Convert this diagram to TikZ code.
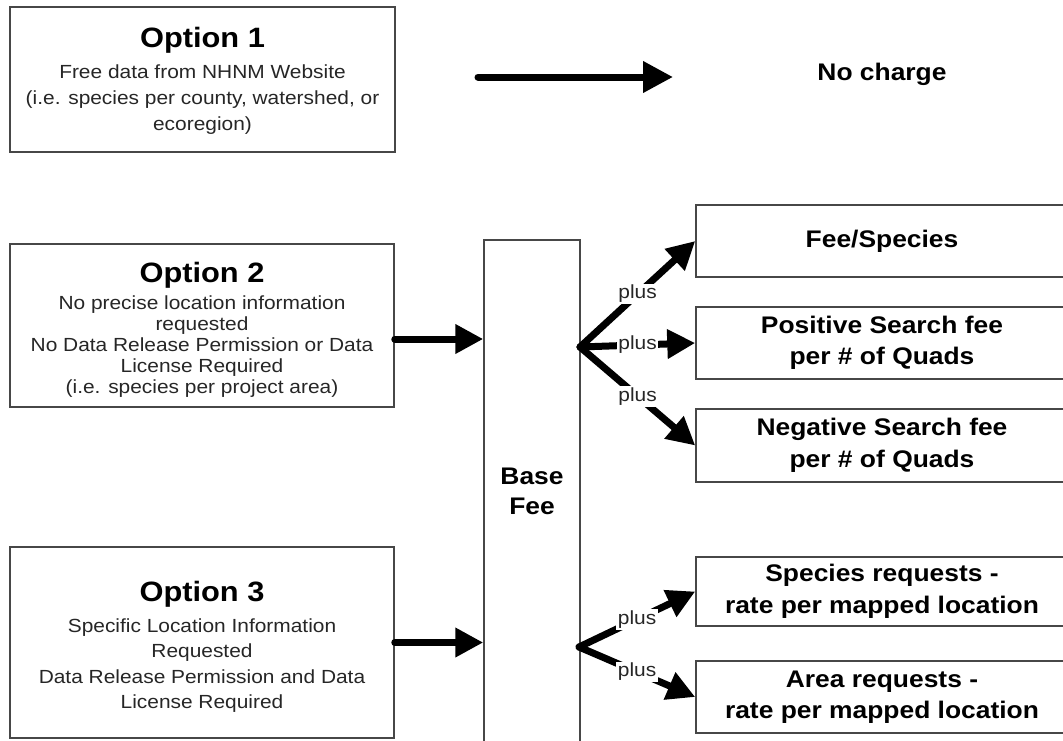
\documentclass[tikz,border=0pt]{standalone}
\usepackage{fontspec}
\setmainfont{Liberation Sans}[FakeStretch=1.1]
\usetikzlibrary{arrows.meta}
\newcommand\ttl[2]{{\fontsize{28}{34}\selectfont\bfseries\color{black}#1}\\[#2]}
\begin{document}
\begin{tikzpicture}[x=1pt,y=-1pt,
  box/.style={draw=black!72, line width=1.5pt, align=center, inner sep=0pt},
  optext/.style={align=center, inner sep=0pt, anchor=north, text=black!85},
  rbox/.style={box, text=black, minimum width=372pt, font=\bfseries\fontsize{24}{31.5}\selectfont},
  bigarrow/.style={line width=7pt, line cap=round, -{Triangle[length=30pt,width=30pt]}},
  brarrow/.style={line width=7pt, line cap=round, -{Triangle[length=28pt,width=28pt]}},
  plusl/.style={font=\fontsize{19}{22}\selectfont, fill=white, inner sep=1.5pt, text=black!85}]
\useasboundingbox (0,0) rectangle (1063,740);
% left boxes
\node[box, minimum width=385pt, minimum height=145pt] (o1) at (202.5,79.5) {};
\node[optext, font=\fontsize{19}{25.8}\selectfont] (o1t) at (202.5,27)
  {\ttl{Option 1}{5.2pt}Free data from NHNM Website\\(i.e. species per county, watershed, or\\ecoregion)};
\node[box, minimum width=384pt, minimum height=163pt] (o2) at (202,325.5) {};
\node[optext, font=\fontsize{19}{21}\selectfont] (o2t) at (202,262)
  {\ttl{Option 2}{6pt}No precise location information\\requested\\No Data Release Permission or Data\\License Required\\(i.e. species per project area)};
\node[box, minimum width=384pt, minimum height=191pt] (o3) at (202,642.5) {};
\node[optext, font=\fontsize{19}{25.5}\selectfont] (o3t) at (202,581)
  {\ttl{Option 3}{5pt}Specific Location Information\\Requested\\Data Release Permission and Data\\License Required};
% base fee
\node[box, text=black, minimum width=96pt, minimum height=503pt, font=\bfseries\fontsize{24}{30}\selectfont] (base) at (532,491.5) {Base\\Fee};
% right boxes
\node[rbox, minimum height=72pt] (fs) at (882,241) {Fee/Species};
\node[rbox, minimum height=72pt] (ps) at (882,343) {Positive Search fee\\per \# of Quads};
\node[rbox, minimum height=73pt] (ns) at (882,445.5) {Negative Search fee\\per \# of Quads};
\node[rbox, minimum height=69pt] (sr) at (882,591.5) {Species requests -\\rate per mapped location};
\node[rbox, minimum height=72pt] (ar) at (882,697) {Area requests -\\rate per mapped location};
% no charge
\node[font=\bfseries\fontsize{24}{30}\selectfont] (nc) at (882,74) {No charge};
% arrows
\coordinate (a1s) at (478,77);
\coordinate (a1e) at (673,77);
\draw[bigarrow] (a1s) -- (a1e);
\draw[brarrow] ([yshift=-13.5pt]o2.east) -- ([yshift=-13.5pt]o2.east -| base.west);
\draw[brarrow] (o3.east) -- (o3.east -| base.west);
\coordinate (bu) at (580,347);
\coordinate (bl) at (579,647);
\draw[brarrow] (bu) -- node[plusl] {plus} (fs.west);
\draw[brarrow] (bu) -- node[plusl] {plus} (ps.west);
\draw[brarrow] (bu) -- node[plusl] {plus} (ns.west);
\draw[brarrow] (bl) -- node[plusl] {plus} (sr.west);
\draw[brarrow] (bl) -- node[plusl] {plus} (ar.west);
\end{tikzpicture}
\end{document}
